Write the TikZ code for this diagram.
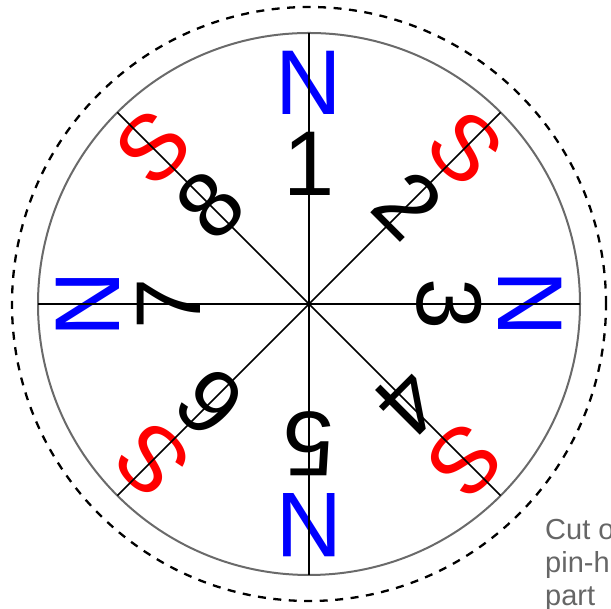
\documentclass[tikz,border=0pt]{standalone}
\usepackage{fontspec}
\setmainfont{Liberation Sans}
\definecolor{ringgray}{HTML}{6A6A6A}
\definecolor{notegray}{HTML}{666666}
\begin{document}
\begin{tikzpicture}[x=1pt,y=1pt,
  glyph/.style={inner sep=0pt, font=\fontsize{92}{92}\selectfont},
  npole/.style={glyph, text=blue},
  spole/.style={glyph, text=red},
  num/.style={glyph, text=black},
  spoke/.style={line width=1.7pt, black},
  ring/.style={line width=2pt, ringgray},
  outer/.style={line width=2.3pt, dash pattern=on 8pt off 7.5pt},
  note/.style={inner sep=0pt, align=left, text=notegray, font=\fontsize{29}{33}\selectfont}]
\useasboundingbox (0,0) rectangle (611,609);
\begin{scope}[shift={(309,305)}]
  \coordinate (c) at (0,0);
  \draw[outer] (c) circle (297);
  \draw[ring] (c) circle (271);
  % numbers and poles
  \foreach \k/\a/\p/\s in {1/90/N/npole, 2/45/S/spole, 3/0/N/npole, 4/-45/S/spole,
                           5/-90/N/npole, 6/-135/S/spole, 7/180/N/npole, 8/135/S/spole}{
    \pgfmathsetmacro{\r}{\a-90}
    \node[num, rotate=\r] (n\k) at (\a:140) {\k};
    \node[\s, rotate=\r] (p\k) at (\a:221) {\p};
    \coordinate (e\k) at (\a:271);
  }
  \foreach \k in {1,...,8}{
    \draw[spoke] (c) -- (e\k);
  }
\end{scope}
\node[note, anchor=north west] (txt) at (545,90) {Cut o\\pin-h\\part};
\end{tikzpicture}
\end{document}
